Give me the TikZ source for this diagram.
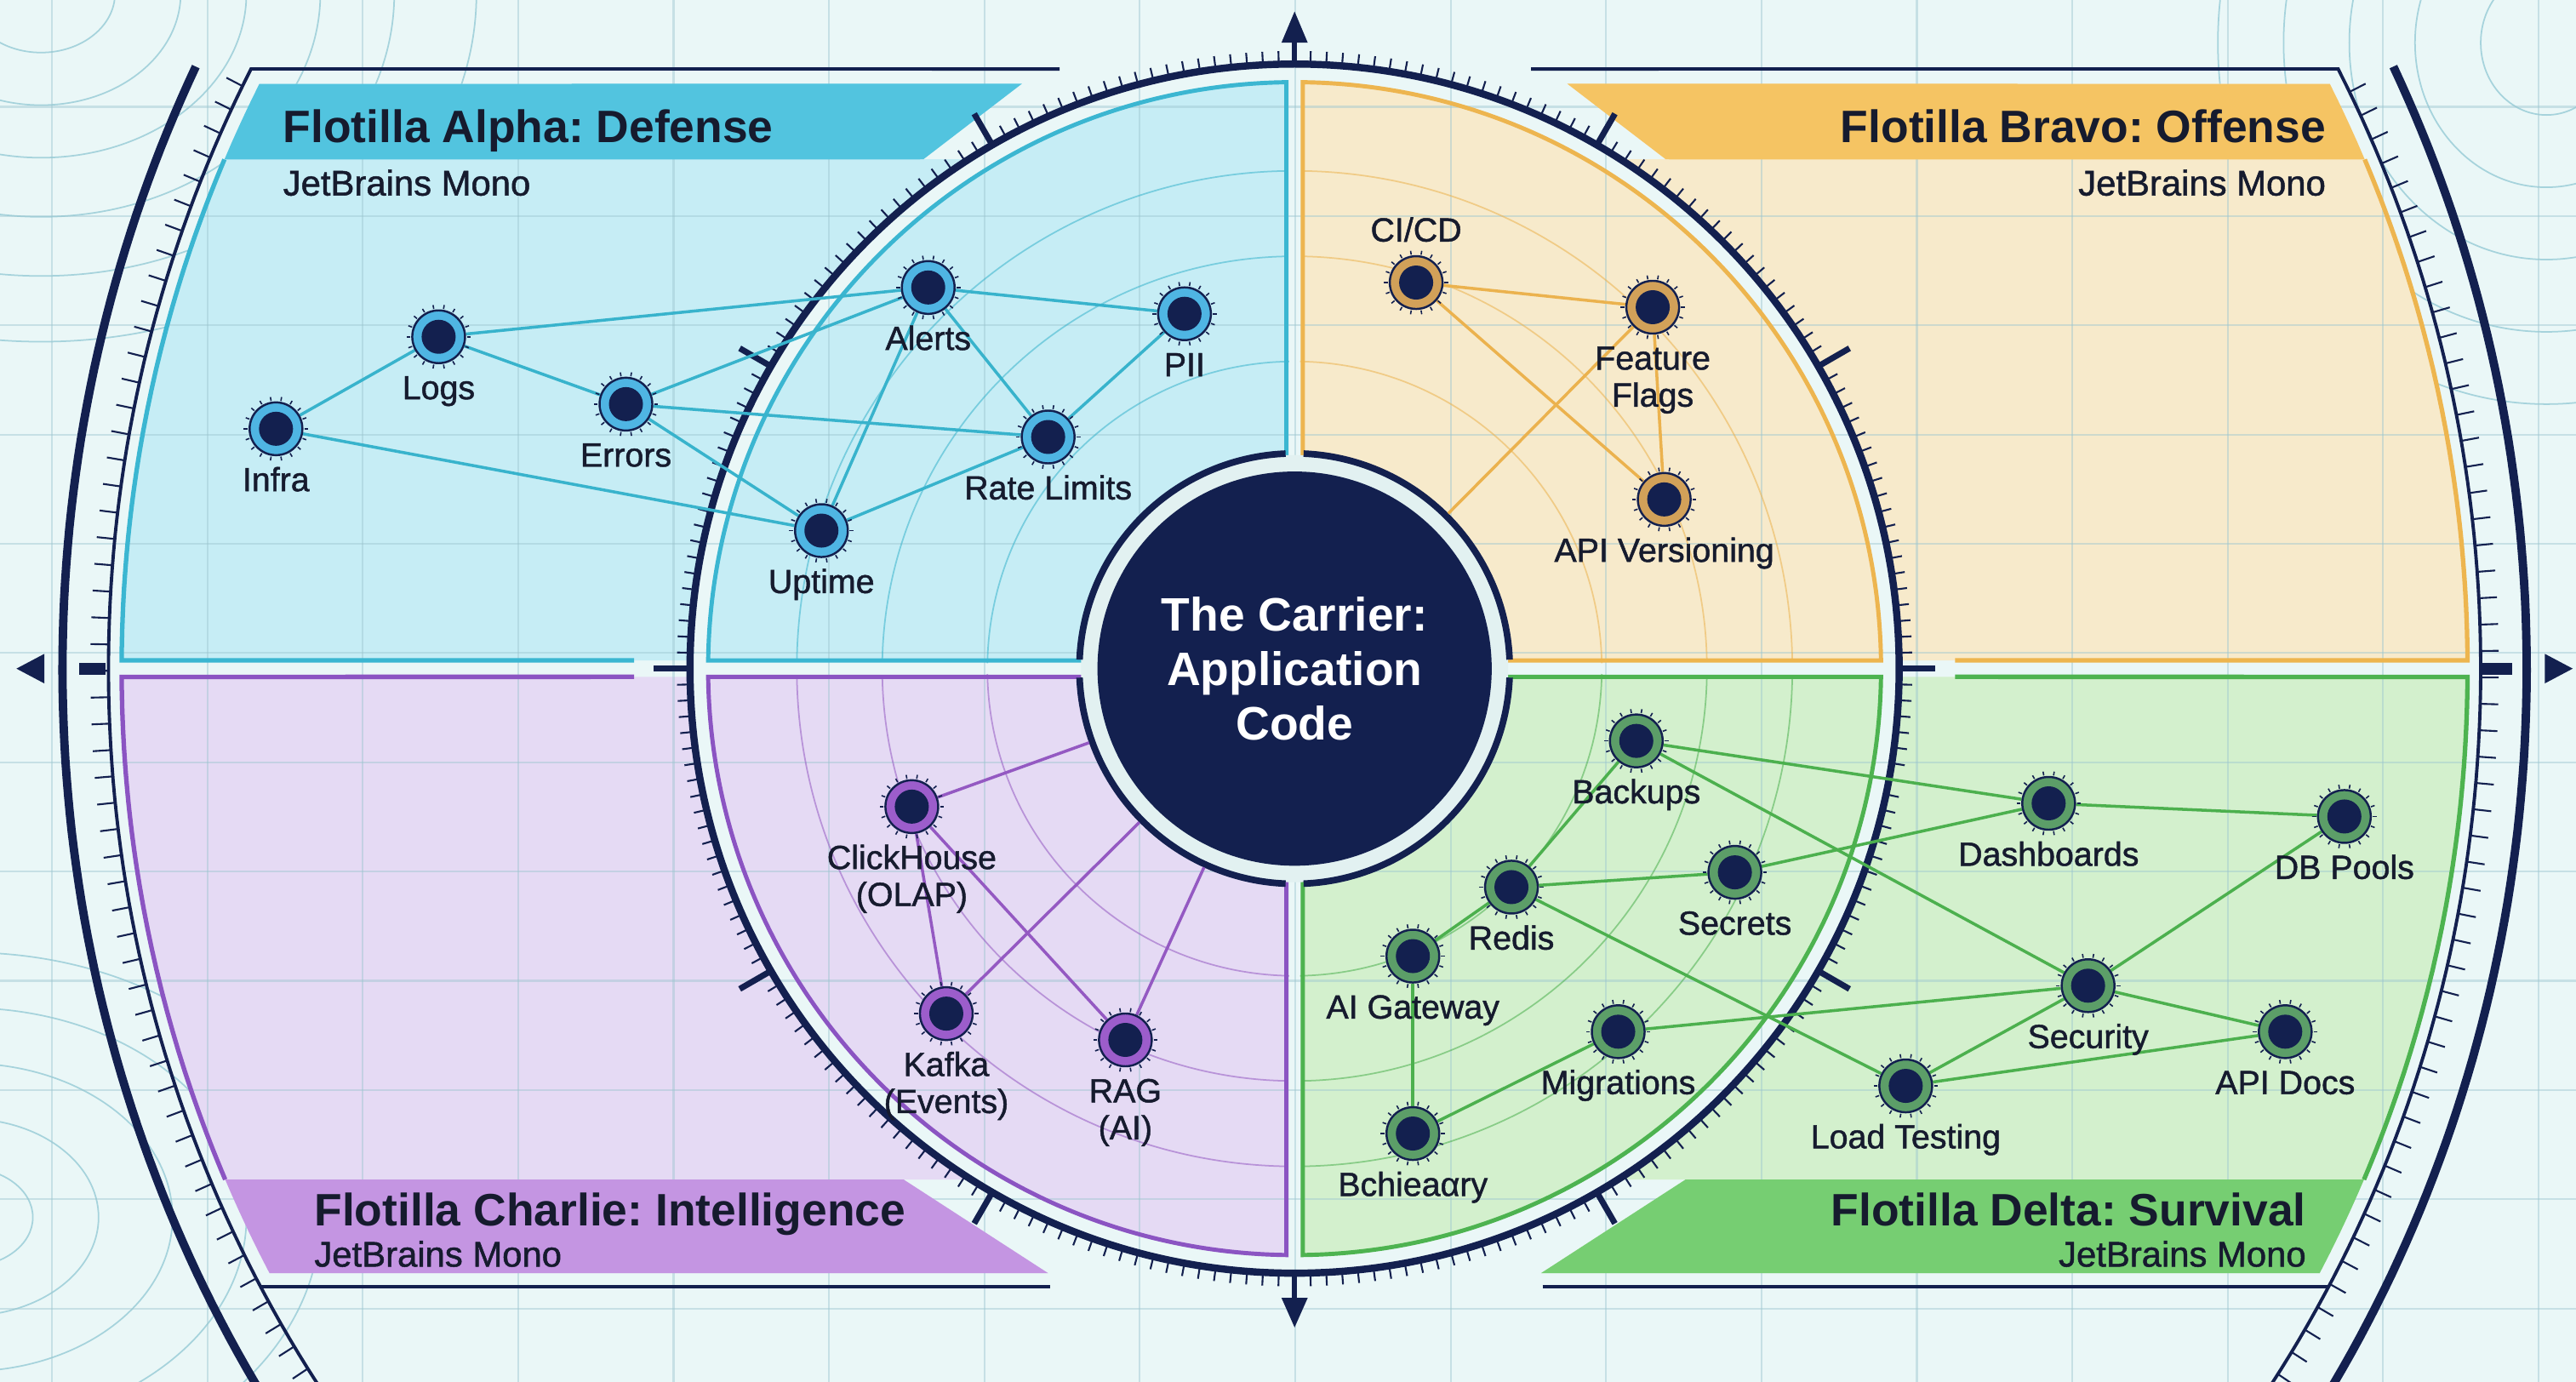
\documentclass[tikz,border=0pt]{standalone}
\usepackage{fontspec}
\setmainfont{Liberation Sans}
\newfontfamily\lblf[FakeBold=1.2]{Liberation Sans}
\usetikzlibrary{calc}
\frenchspacing
\definecolor{navy}{HTML}{13204F}
\definecolor{ink}{HTML}{161B2E}
\definecolor{bgc}{HTML}{EAF7F7}
\definecolor{gridc}{HTML}{9CC6D0}
\definecolor{contc}{HTML}{A6D3DC}
\definecolor{lightring}{HTML}{E2F1F1}
\definecolor{fA}{HTML}{C6EDF5}\definecolor{bA}{HTML}{52C4DF}\definecolor{lA}{HTML}{3BB6D1}\definecolor{rA}{HTML}{4FB5E3}\definecolor{eA}{HTML}{38B3CC}
\definecolor{fB}{HTML}{F7EACB}\definecolor{bB}{HTML}{F5C463}\definecolor{lB}{HTML}{EDB54F}\definecolor{rB}{HTML}{D2A159}\definecolor{eB}{HTML}{EBB24E}
\definecolor{fC}{HTML}{E5DAF4}\definecolor{bC}{HTML}{C495E2}\definecolor{lC}{HTML}{8B54C2}\definecolor{rC}{HTML}{9C5DCB}\definecolor{eC}{HTML}{9459C2}
\definecolor{fD}{HTML}{D3F0CD}\definecolor{bD}{HTML}{76CE72}\definecolor{lD}{HTML}{4DB350}\definecolor{rD}{HTML}{5C9E68}\definecolor{eD}{HTML}{4CB04E}
\pgfdeclarelayer{bg}
\pgfdeclarelayer{edges}
\pgfsetlayers{bg,edges,main}
\tikzset{
  fnd/.style={circle, minimum size=0.62cm, inner sep=0pt, draw=navy, line width=0.7pt},
  lbl/.style={font=\lblf\fontsize{11.2}{13}\selectfont, text=ink, anchor=base, inner sep=0pt},
  ttl/.style={font=\bfseries\fontsize{15.2}{18}\selectfont, text=ink, anchor=base, inner sep=0pt},
  subt/.style={font=\lblf\fontsize{11.9}{14}\selectfont, text=ink, anchor=base, inner sep=0pt},
  gridline/.style={draw=gridc, line width=0.6pt, opacity=0.45},
  contour/.style={draw=contc, line width=0.5pt},
  ringarc/.style={line width=0.5pt, opacity=0.55},
  tick/.style={draw=navy, line width=0.6pt},
  majtick/.style={draw=navy, line width=2pt},
  edgeA/.style={draw=eA, line width=1pt},
  edgeB/.style={draw=eB, line width=1pt},
  edgeC/.style={draw=eC, line width=1pt},
  edgeD/.style={draw=eD, line width=1pt},
}
\newcommand\flnode[3]{%
  \node[fnd, fill=#3, path picture={\fill[navy] (path picture bounding box.center) circle (0.2cm);}] (#1) at (#2) {};
  \foreach \s in {0,20,...,340} \draw[navy, line width=0.45pt] ($(#1.center)+(\s:17.2)$) -- ($(#1.center)+(\s:19.6)$);
}
\begin{document}
\begin{tikzpicture}[x=0.0193cm, y=0.0193cm]
\useasboundingbox (0,0) rectangle (1568,841);
\begin{pgfonlayer}{bg}
\fill[bgc] (0,0) rectangle (1568,841);
\begin{scope}
  \clip (0,0) rectangle (1568,841);
  \foreach \r in {45,85,125,170,215,265} \draw[contour] (25,845) ellipse[x radius=\r, y radius={0.8*\r}];
  \foreach \r in {40,80,120,160,200} \draw[contour] (1550,815) ellipse[x radius=\r, y radius={1.1*\r}];
  \foreach \r in {40,80,125,170,215} \draw[contour] (-20,100) ellipse[x radius=\r, y radius={0.75*\r}];
\end{scope}
\begin{scope}[shift={(788,434)}]
  % outer panels
  \fill[fA] (-713.98,5) -- (-369.97,5) arc[start angle=179.23, end angle=123.09, radius=370] -- (-226,310) -- (-166,356) -- plot[domain=151.95:179.62, samples=60] ({714*cos(\x)},{757*sin(\x)}) -- cycle;
  \fill[fB] (713.98,5) -- (369.97,5) arc[start angle=0.77, end angle=56.91, radius=370] -- (226,310) -- (166,356) -- plot[domain=28.05:0.38, samples=60] ({714*cos(\x)},{757*sin(\x)}) -- cycle;
  \fill[fC] (-713.98,-5) -- (-369.97,-5) arc[start angle=180.77, end angle=237.2, radius=370] -- (-238,-311) -- (-150,-368) -- plot[domain=209.09:180.38, samples=60] ({714*cos(\x)},{757*sin(\x)}) -- cycle;
  \fill[fD] (713.98,-5) -- (369.97,-5) arc[start angle=-0.77, end angle=-57.2, radius=370] -- (238,-311) -- (150,-368) -- plot[domain=-29.09:-0.38, samples=60] ({714*cos(\x)},{757*sin(\x)}) -- cycle;
  % inner panels
  \fill[fA] (90.8:357) arc[start angle=90.8, end angle=179.2, radius=357] -- (177.81:131) arc[start angle=177.81, end angle=92.19, radius=131] -- cycle;
  \fill[fB] (0.8:357) arc[start angle=0.8, end angle=89.2, radius=357] -- (87.81:131) arc[start angle=87.81, end angle=2.19, radius=131] -- cycle;
  \fill[fC] (180.8:357) arc[start angle=180.8, end angle=269.2, radius=357] -- (267.81:131) arc[start angle=267.81, end angle=182.19, radius=131] -- cycle;
  \fill[fD] (270.8:357) arc[start angle=270.8, end angle=359.2, radius=357] -- (357.81:131) arc[start angle=357.81, end angle=272.19, radius=131] -- cycle;
\end{scope}
% grid
\foreach \k in {0,...,16} \draw[gridline] ({31.6+94.6*\k},0) -- ++(0,841);
\foreach \k in {0,...,11} \draw[gridline] (0,{776-66.5*\k}) -- ++(1568,0);
\begin{scope}[shift={(788,434)}]
  % faint concentric arcs
  \foreach \r in {187,251,303} {
    \draw[ringarc, draw=eA] (91:\r) arc[start angle=91, end angle=179, radius=\r];
    \draw[ringarc, draw=eB] (1:\r) arc[start angle=1, end angle=89, radius=\r];
    \draw[ringarc, draw=eC] (181:\r) arc[start angle=181, end angle=269, radius=\r];
    \draw[ringarc, draw=eD] (271:\r) arc[start angle=271, end angle=359, radius=\r];
  }
  % bands
  \fill[bA] (-226,310) -- (-166,356) -- plot[domain=151.95:155.83, samples=10] ({714*cos(\x)},{757*sin(\x)}) -- cycle;
  \fill[bB] (226,310) -- (166,356) -- plot[domain=28.05:24.17, samples=10] ({714*cos(\x)},{757*sin(\x)}) -- cycle;
  \fill[bC] (-238,-311) -- (-150,-368) -- plot[domain=209.09:204.26, samples=10] ({714*cos(\x)},{757*sin(\x)}) -- cycle;
  \fill[bD] (238,-311) -- (150,-368) -- plot[domain=-29.09:-24.26, samples=10] ({714*cos(\x)},{757*sin(\x)}) -- cycle;
  % outer panel borders
  \draw[lA, line width=1.5pt] plot[domain=155.83:179.62, samples=50] ({714*cos(\x)},{757*sin(\x)}) -- (-402,5);
  \draw[lB, line width=1.5pt] plot[domain=24.17:0.38, samples=50] ({714*cos(\x)},{757*sin(\x)}) -- (402,5);
  \draw[lC, line width=1.5pt] plot[domain=204.26:180.38, samples=50] ({714*cos(\x)},{757*sin(\x)}) -- (-402,-5);
  \draw[lD, line width=1.5pt] plot[domain=-24.26:-0.38, samples=50] ({714*cos(\x)},{757*sin(\x)}) -- (402,-5);
  % inner panel borders
  \draw[lA, line width=1.4pt] (90.8:357) arc[start angle=90.8, end angle=179.2, radius=357] -- (177.81:131) arc[start angle=177.81, end angle=92.19, radius=131] -- cycle;
  \draw[lB, line width=1.4pt] (0.8:357) arc[start angle=0.8, end angle=89.2, radius=357] -- (87.81:131) arc[start angle=87.81, end angle=2.19, radius=131] -- cycle;
  \draw[lC, line width=1.4pt] (180.8:357) arc[start angle=180.8, end angle=269.2, radius=357] -- (267.81:131) arc[start angle=267.81, end angle=182.19, radius=131] -- cycle;
  \draw[lD, line width=1.4pt] (270.8:357) arc[start angle=270.8, end angle=359.2, radius=357] -- (357.81:131) arc[start angle=357.81, end angle=272.19, radius=131] -- cycle;
  % outer thick arcs
  \draw[navy, line width=2.8pt] plot[domain=153.1:214, samples=80] ({750*cos(\x)},{810*sin(\x)});
  \draw[navy, line width=2.8pt] plot[domain=26.9:-34, samples=80] ({750*cos(\x)},{810*sin(\x)});
  % frame lines
  \draw[navy, line width=1.1pt] (-143,365) -- plot[domain=151.62:214.5, samples=80] ({722*cos(\x)},{768*sin(\x)});
  \draw[navy, line width=1.1pt] (144,365) -- plot[domain=28.38:-34.5, samples=80] ({722*cos(\x)},{768*sin(\x)});
  \draw[navy, line width=1.1pt] (-149,-376) -- (-629.6,-376);
  \draw[navy, line width=1.1pt] (151,-376) -- (629.6,-376);
  \foreach \t in {152.5,153.7,...,214} \draw[tick] ({722*cos(\t)},{768*sin(\t)}) -- ({733*cos(\t)},{779*sin(\t)});
  \foreach \t in {-34,-32.8,...,28} \draw[tick] ({722*cos(\t)},{768*sin(\t)}) -- ({733*cos(\t)},{779*sin(\t)});
  % axis bars and arrows
  \draw[navy, line width=4pt] (-724,0) -- (-740,0);
  \draw[navy, line width=4pt] (723,0) -- (741,0);
  \fill[navy] (-778,0) -- (-761,9) -- (-761,-9) -- cycle;
  \fill[navy] (778,0) -- (761,9) -- (761,-9) -- cycle;
  \draw[navy, line width=1.6pt] (0,368) -- (0,383);
  \fill[navy] (0,400) -- (-8,381) -- (8,381) -- cycle;
  \draw[navy, line width=1.6pt] (0,-368) -- (0,-384);
  \fill[navy] (0,-401) -- (-8,-383) -- (8,-383) -- cycle;
  % ring
  \draw[navy, line width=2.4pt] (0,0) circle (368);
  \foreach \a in {0,1.5,...,358.5} \draw[tick] (\a:368) -- (\a:376);
  \foreach \a in {0,30,60,120,150,180,210,240,300,330} \draw[majtick] (\a:368) -- (\a:390);
  % center surround
  \fill[lightring] (0,0) circle (130);
  \foreach \k in {0,90,180,270} \draw[navy, line width=2.2pt] ({\k+2.4}:131) arc[start angle={\k+2.4}, end angle={\k+87.6}, radius=131];
\end{scope}
\end{pgfonlayer}

% center
\node[circle, fill=navy, minimum size=4.632cm, inner sep=0pt, outer sep=0.25cm, text=white, align=center,
      font=\bfseries\fontsize{15.7}{18.1}\selectfont] (carrier) at (788,434) {The Carrier:\\Application\\Code};

% Alpha nodes
\flnode{infra}{168,580}{rA}
\flnode{logs}{267,636}{rA}
\flnode{errors}{381,595}{rA}
\flnode{alerts}{565,666}{rA}
\flnode{pii}{721,650}{rA}
\flnode{ratelim}{638,575}{rA}
\flnode{uptime}{500,518}{rA}
% Bravo nodes
\flnode{cicd}{862,669}{rB}
\flnode{ff}{1006,654}{rB}
\flnode{apiv}{1013,537}{rB}
% Charlie nodes
\flnode{ch}{555,350}{rC}
\flnode{kafka}{576,224}{rC}
\flnode{rag}{685,208}{rC}
% Delta nodes
\flnode{backups}{996,390}{rD}
\flnode{redis}{920,301}{rD}
\flnode{secrets}{1056,310}{rD}
\flnode{aigw}{860,259}{rD}
\flnode{migr}{985,213}{rD}
\flnode{bch}{860,151}{rD}
\flnode{dash}{1247,352}{rD}
\flnode{dbp}{1427,344}{rD}
\flnode{sec}{1271,241}{rD}
\flnode{apid}{1391,213}{rD}
\flnode{loadt}{1160,180}{rD}

% labels
\node[lbl] (t-infra) at (168,542) {Infra};
\node[lbl] (t-logs) at (267,598) {Logs};
\node[lbl] (t-errors) at (381,557) {Errors};
\node[lbl] (t-alerts) at (565,628) {Alerts};
\node[lbl] (t-pii) at (721,612) {PII};
\node[lbl] (t-rl) at (638,537) {Rate Limits};
\node[lbl] (t-uptime) at (500,480) {Uptime};
\node[lbl] (t-cicd) at (862,694) {CI/CD};
\node[lbl] (t-ff1) at (1006,616) {Feature};
\node[lbl] (t-ff2) at (1006,593.5) {Flags};
\node[lbl] (t-apiv) at (1013,499) {API Versioning};
\node[lbl] (t-ch1) at (555,312) {ClickHouse};
\node[lbl] (t-ch2) at (555,289.5) {(OLAP)};
\node[lbl] (t-kafka1) at (576,186) {Kafka};
\node[lbl] (t-kafka2) at (576,163.5) {(Events)};
\node[lbl] (t-rag1) at (685,170) {RAG};
\node[lbl] (t-rag2) at (685,147.5) {(AI)};
\node[lbl] (t-backups) at (996,352) {Backups};
\node[lbl] (t-redis) at (920,263) {Redis};
\node[lbl] (t-secrets) at (1056,272) {Secrets};
\node[lbl] (t-aigw) at (860,221) {AI Gateway};
\node[lbl] (t-migr) at (985,175) {Migrations};
\node[lbl] (t-bch) at (860,113) {Bchieaαry};
\node[lbl] (t-dash) at (1247,314) {Dashboards};
\node[lbl] (t-dbp) at (1427,306) {DB Pools};
\node[lbl] (t-sec) at (1271,203) {Security};
\node[lbl] (t-apid) at (1391,175) {API Docs};
\node[lbl] (t-loadt) at (1160,142) {Load Testing};

% titles
\node[ttl, anchor=base west] (ttlA) at (172,754) {Flotilla Alpha: Defense};
\node[subt, anchor=base west] (subA) at (172,722) {JetBrains Mono};
\node[ttl, anchor=base east] (ttlB) at (1416,754) {Flotilla Bravo: Offense};
\node[subt, anchor=base east] (subB) at (1416,722) {JetBrains Mono};
\node[ttl, anchor=base west] (ttlC) at (191,95) {Flotilla Charlie: Intelligence};
\node[subt, anchor=base west] (subC) at (191,70) {JetBrains Mono};
\node[ttl, anchor=base east] (ttlD) at (1404,95) {Flotilla Delta: Survival};
\node[subt, anchor=base east] (subD) at (1404,70) {JetBrains Mono};

% edges
\begin{pgfonlayer}{edges}
\draw[edgeA] (infra) -- (logs);
\draw[edgeA] (infra) -- (uptime);
\draw[edgeA] (logs) -- (errors);
\draw[edgeA] (logs) -- (alerts);
\draw[edgeA] (errors) -- (alerts);
\draw[edgeA] (errors) -- (ratelim);
\draw[edgeA] (errors) -- (uptime);
\draw[edgeA] (alerts) -- (pii);
\draw[edgeA] (alerts) -- (ratelim);
\draw[edgeA] (alerts) -- (uptime);
\draw[edgeA] (pii) -- (ratelim);
\draw[edgeA] (ratelim) -- (uptime);
\draw[edgeB] (cicd) -- (ff);
\draw[edgeB] (cicd) -- (apiv);
\draw[edgeB] (ff) -- (apiv);
\draw[edgeB] (ff) -- (carrier);
\draw[edgeC] (carrier) -- (ch);
\draw[edgeC] (ch) -- (kafka);
\draw[edgeC] (ch) -- (rag);
\draw[edgeC] (kafka) -- (carrier);
\draw[edgeC] (rag) -- (carrier);
\draw[edgeD] (backups) -- (dash);
\draw[edgeD] (backups) -- (sec);
\draw[edgeD] (backups) -- (redis);
\draw[edgeD] (redis) -- (secrets);
\draw[edgeD] (redis) -- (aigw);
\draw[edgeD] (redis) -- (loadt);
\draw[edgeD] (secrets) -- (dash);
\draw[edgeD] (migr) -- (sec);
\draw[edgeD] (migr) -- (bch);
\draw[edgeD] (aigw) -- (bch);
\draw[edgeD] (sec) -- (dbp);
\draw[edgeD] (sec) -- (apid);
\draw[edgeD] (sec) -- (loadt);
\draw[edgeD] (loadt) -- (apid);
\draw[edgeD] (dash) -- (dbp);
\end{pgfonlayer}
\end{tikzpicture}
\end{document}
